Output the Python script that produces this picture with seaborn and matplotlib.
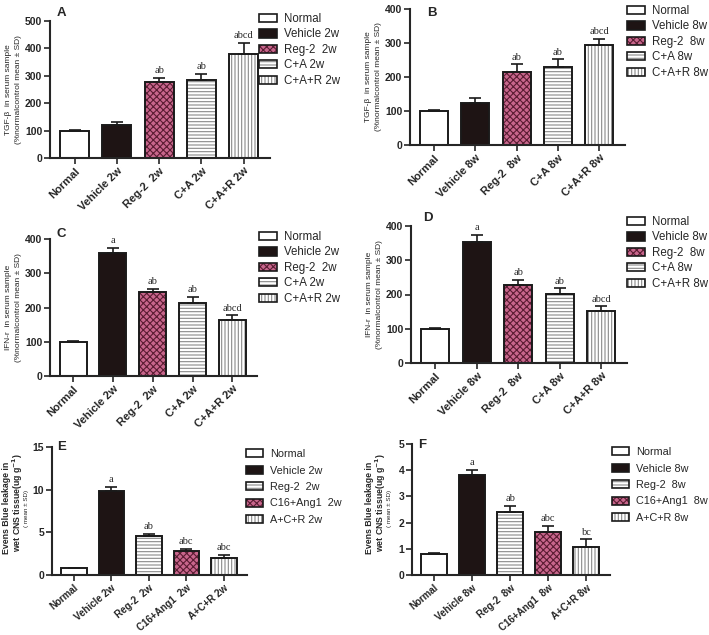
import numpy as np
import pandas as pd
import matplotlib
matplotlib.use("Agg")
import matplotlib.pyplot as plt
import matplotlib.patches as mpatches
import matplotlib.colors as mcolors
import seaborn as sns

sns.set_theme(style="ticks")
plt.rcParams['font.family'] = ['Liberation Sans', 'DejaVu Sans']
plt.rcParams['hatch.linewidth'] = 0.8

# ---------------- data ----------------
cats_A = ["Normal", "Vehicle 2w", "Reg-2  2w", "C+A 2w", "C+A+R 2w"]
mean_A = [100, 119, 277, 285, 379]
sd_A = [2, 12, 14, 22, 42]
sig_A = ["", "", "ab", "ab", "abcd"]

cats_B = ["Normal", "Vehicle 8w", "Reg-2  8w", "C+A 8w", "C+A+R 8w"]
mean_B = [100, 124, 215, 230, 294]
sd_B = [4, 13, 22, 22, 18]
sig_B = ["", "", "ab", "ab", "abcd"]

cats_C = ["Normal", "Vehicle 2w", "Reg-2  2w", "C+A 2w", "C+A+R 2w"]
mean_C = [100, 358, 246, 214, 163]
sd_C = [2, 15, 9, 18, 14]
sig_C = ["", "a", "ab", "ab", "abcd"]

cats_D = ["Normal", "Vehicle 8w", "Reg-2  8w", "C+A 8w", "C+A+R 8w"]
mean_D = [100, 352, 228, 201, 153]
sd_D = [3, 21, 14, 17, 12]
sig_D = ["", "a", "ab", "ab", "abcd"]

cats_E = ["Normal", "Vehicle 2w", "Reg-2  2w", "C16+Ang1  2w", "A+C+R 2w"]
mean_E = [0.86, 9.86, 4.6, 2.8, 1.95]
sd_E = [0.0, 0.42, 0.23, 0.28, 0.39]
sig_E = ["", "a", "ab", "abc", "abc"]

cats_F = ["Normal", "Vehicle 8w", "Reg-2  8w", "C16+Ang1  8w", "A+C+R 8w"]
mean_F = [0.80, 3.80, 2.39, 1.63, 1.08]
sd_F = [0.05, 0.22, 0.26, 0.24, 0.28]
sig_F = ["", "a", "ab", "abc", "bc"]

# ---------------- styles ----------------
WHITE = "#ffffff"
BLACK = "#1e1414"
PINK = "#c8668c"
STRIPE = "#8a8a8a"
CHECK = "#5a1c32"

st_white = dict(fc=WHITE, hatch="", hc=BLACK)
st_black = dict(fc=BLACK, hatch="", hc=BLACK)
st_check = dict(fc=PINK, hatch="xxxxx", hc=CHECK)
st_hstripe = dict(fc=WHITE, hatch="-----", hc=STRIPE)
st_vstripe = dict(fc=WHITE, hatch="|||||", hc=STRIPE)

styles_ABCD = [st_white, st_black, st_check, st_hstripe, st_vstripe]
styles_EF = [st_white, st_black, st_hstripe, st_check, st_vstripe]

fig = plt.figure(figsize=(7.09, 6.35), dpi=100)
W, H = 709, 635


def axes_px(x0, y0, x1, y1):
    return fig.add_axes([x0 / W, 1 - y1 / H, (x1 - x0) / W, (y1 - y0) / H])


def panel(ax, cats, means, sds, sigs, styles, letter, letter_xy, ylim, yticks, ylabel,
          leg_xy, xtick_size=8, xrot=45, leg_size=8.3, ev_label=None, legend_gap=False):
    df = pd.DataFrame({"cat": cats, "val": means})
    sns.barplot(data=df, x="cat", y="val", hue="cat", palette=[s["fc"] for s in styles],
                legend=False, errorbar=None, width=0.68, ax=ax, saturation=1,
                edgecolor="k", linewidth=1.4)
    for p, s in zip(ax.patches, styles):
        p.set_facecolor(s["fc"])
        p.set_hatch(s["hatch"])
        p.set_edgecolor("k")
        p._hatch_color = mcolors.to_rgba(s["hc"])
    xs = np.arange(len(cats))
    ax.errorbar(xs, means, yerr=[np.zeros(len(sds)), sds], fmt="none",
                ecolor="k", elinewidth=1.2, capsize=4.5, capthick=1.2, zorder=1)
    for x, m, s, t in zip(xs, means, sds, sigs):
        if t:
            ax.annotate(t, (x, m + s), xytext=(0, 2), textcoords="offset points",
                        ha="center", va="bottom", fontsize=7.5,
                        family=["Liberation Serif", "DejaVu Serif"])
    ax.set_xlim(-0.58, 4.62)
    ax.set_ylim(*ylim)
    ax.set_yticks(yticks)
    ax.set_xlabel("")
    if ylabel:
        ax.set_ylabel(ylabel, fontsize=6, labelpad=2, linespacing=1.6)
    else:
        ax.set_ylabel("")
    ax.set_xticks(xs)
    ax.set_xticklabels(cats, rotation=xrot, ha="right", rotation_mode="anchor",
                       fontsize=xtick_size, fontweight="bold")
    for lab in ax.get_yticklabels():
        lab.set_fontweight("bold")
        lab.set_fontsize(7.5)
    ax.tick_params(axis="both", length=4, width=1.2, pad=1.5)
    for sp in ["top", "right"]:
        ax.spines[sp].set_visible(False)
    for sp in ["left", "bottom"]:
        ax.spines[sp].set_linewidth(1.5)
    fig.text(letter_xy[0] / W, 1 - letter_xy[1] / H, letter, fontsize=9.5,
             fontweight="bold", ha="center", va="center")
    if ev_label:
        (x1, x2, x3), yc = ev_label
        fig.text(x1 / W, 1 - yc / H, "Evens Blue leakage in",
                 rotation=90, ha="center", va="center", fontsize=6.3, fontweight="bold")
        fig.text(x2 / W, 1 - (yc - 5) / H, "wet CNS tissue(ug g$^{\\mathbf{-1}}$)", rotation=90,
                 ha="center", va="center", fontsize=6.3, fontweight="bold")
        fig.text(x3 / W, 1 - yc / H, "( mean ± SD)", rotation=90,
                 ha="center", va="center", fontsize=4.5)
    handles = []
    for s, c in zip(styles, cats):
        h = mpatches.Patch(facecolor=s["fc"], edgecolor="k", hatch=s["hatch"], label=c,
                           linewidth=1.2)
        h._hatch_color = mcolors.to_rgba(s["hc"])
        handles.append(h)
    fig.legend(handles=handles, loc="upper left",
               bbox_to_anchor=(leg_xy[0] / W, 1 - leg_xy[1] / H),
               frameon=False, fontsize=leg_size, handlelength=1.6, handleheight=0.72,
               labelspacing=0.3 if not legend_gap else 0.6,
               handletextpad=0.6, borderaxespad=0, borderpad=0)


axA = axes_px(50, 21, 270, 158)
panel(axA, cats_A, mean_A, sd_A, sig_A, styles_ABCD, "A", (61, 13), (0, 500),
      [0, 100, 200, 300, 400, 500],
      "TGF-β  in serum sample\n(%normalcontrol mean ± SD)", (259, 13))

axB = axes_px(410, 9, 625, 145)
panel(axB, cats_B, mean_B, sd_B, sig_B, styles_ABCD, "B", (432, 13), (0, 400),
      [0, 100, 200, 300, 400],
      "TGF-β  in serum sample\n(%normalcontrol mean ± SD)", (627, 5))

axC = axes_px(50, 239, 257, 376)
panel(axC, cats_C, mean_C, sd_C, sig_C, styles_ABCD, "C", (61, 234), (0, 400),
      [0, 100, 200, 300, 400],
      "IFN-r  in serum sample\n(%normalcontrol mean ± SD)", (259, 231))

axD = axes_px(411, 226, 627, 363)
panel(axD, cats_D, mean_D, sd_D, sig_D, styles_ABCD, "D", (428, 218), (0, 400),
      [0, 100, 200, 300, 400],
      "IFN-r  in serum sample\n(%normalcontrol mean ± SD)", (627, 216))

axE = axes_px(52, 447, 247, 575)
panel(axE, cats_E, mean_E, sd_E, sig_E, styles_EF, "E", (62, 447), (0, 15), [0, 5, 10, 15],
      None, (246, 449), xtick_size=7, xrot=40, leg_size=7.8,
      ev_label=((7, 17.5, 26.5), 508), legend_gap=True)

axF = axes_px(412, 444, 610, 575)
panel(axF, cats_F, mean_F, sd_F, sig_F, styles_EF, "F", (422, 445), (0, 5), [0, 1, 2, 3, 4, 5],
      None, (612, 447), xtick_size=7, xrot=40, leg_size=7.8,
      ev_label=((370, 380.5, 389.5), 508), legend_gap=True)

fig.savefig("out.png", dpi=100, facecolor="white")
